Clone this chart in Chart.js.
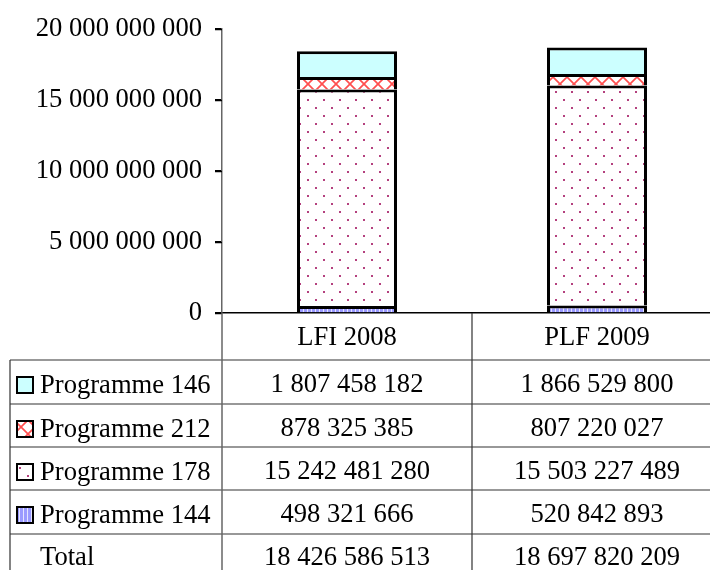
<!DOCTYPE html>
<html>
<head>
<meta charset="utf-8">
<script src="https://cdn.jsdelivr.net/npm/chart.js@4/dist/chart.umd.min.js"></script>
<style>
  html, body { margin: 0; padding: 0; background: #fff; overflow: hidden; }
  #wrap { width: 722px; height: 570px; }
</style>
</head>
<body>
<div id="wrap"><canvas id="c" width="722" height="570"></canvas></div>
<script>
// Budget credits by programme (euros)
const categories = ['LFI 2008', 'PLF 2009'];
const programme146 = [1807458182, 1866529800];
const programme212 = [878325385, 807220027];
const programme178 = [15242481280, 15503227489];
const programme144 = [498321666, 520842893];
const yTickValues = [0, 5000000000, 10000000000, 15000000000, 20000000000];

const FONT_FAMILY = '"Liberation Serif", "Times New Roman", serif';
const FONT_SIZE = 26.6;
const FONT = FONT_SIZE + 'px ' + FONT_FAMILY;

// thousands separated by spaces
function fmt(n) {
  return String(n).replace(/\B(?=(\d{3})+(?!\d))/g, ' ');
}

// fill patterns
function makeTile(w, h, paint) {
  const c = document.createElement('canvas');
  c.width = w; c.height = h;
  const g = c.getContext('2d');
  paint(g, w, h);
  return document.createElement('canvas').getContext('2d').createPattern(c, 'repeat');
}
const fill146 = '#ccffff';
const fill212 = makeTile(14, 14, (g, w, h) => {
  g.fillStyle = '#fff'; g.fillRect(0, 0, w, h);
  g.strokeStyle = 'rgba(255,60,60,0.9)'; g.lineWidth = 1.7;
  g.beginPath();
  g.moveTo(-1, -1); g.lineTo(w + 1, h + 1);
  g.moveTo(w + 1, -1); g.lineTo(-1, h + 1);
  g.stroke();
});
const fill178 = makeTile(16, 16, (g, w, h) => {
  g.fillStyle = '#fff'; g.fillRect(0, 0, w, h);
  g.fillStyle = '#b4407e';
  g.fillRect(3, 3, 2, 2);
  g.fillRect(11, 11, 2, 2);
});
const fill144 = makeTile(4, 4, (g, w, h) => {
  g.fillStyle = '#e4e4ff'; g.fillRect(0, 0, w, h);
  g.fillStyle = '#9a9aff'; g.fillRect(0, 0, 3, h);
});

const series = [
  { label: 'Programme 146', data: programme146, fill: fill146 },
  { label: 'Programme 212', data: programme212, fill: fill212 },
  { label: 'Programme 178', data: programme178, fill: fill178 },
  { label: 'Programme 144', data: programme144, fill: fill144 }
];
const totals = categories.map((_, i) => series.reduce((s, d) => s + d.data[i], 0));

// small outward tick marks on the value axis
const tickMarks = {
  id: 'tickMarks',
  afterDraw(chart) {
    const ctx = chart.ctx;
    const ys = chart.scales.y;
    const x0 = chart.chartArea.left;
    ctx.save();
    ctx.strokeStyle = '#000';
    ctx.lineWidth = 1.3;
    ctx.beginPath();
    yTickValues.forEach(v => {
      const y = Math.round(ys.getPixelForValue(v)) + 0.5;
      ctx.moveTo(x0 - 7, y); ctx.lineTo(x0, y);
    });
    ctx.stroke();
    ctx.restore();
  }
};

// data table drawn under the plot, columns aligned with the category scale
const tablePlugin = {
  id: 'dataTable',
  afterDraw(chart) {
    const ctx = chart.ctx;
    const xs = chart.scales.x;
    const area = chart.chartArea;
    const left = 10, axisX = area.left, right = chart.width;
    const headerTop = area.bottom;
    const rowTops = [360, 404, 447, 490, 534];
    ctx.save();
    // lines
    ctx.strokeStyle = '#333';
    ctx.lineWidth = 1.2;
    ctx.beginPath();
    rowTops.forEach(y => { ctx.moveTo(left, y); ctx.lineTo(right, y); });
    ctx.moveTo(left, rowTops[0]); ctx.lineTo(left, chart.height);
    const mid = (xs.getPixelForValue(0) + xs.getPixelForValue(1)) / 2;
    ctx.moveTo(mid, headerTop); ctx.lineTo(mid, chart.height);
    ctx.stroke();
    ctx.strokeStyle = '#666';
    ctx.lineWidth = 1.5;
    ctx.beginPath();
    ctx.moveTo(axisX, headerTop); ctx.lineTo(axisX, chart.height);
    ctx.stroke();

    ctx.font = FONT;
    ctx.fillStyle = '#000';
    ctx.textBaseline = 'alphabetic';
    // header
    ctx.textAlign = 'center';
    categories.forEach((c, i) => ctx.fillText(c, xs.getPixelForValue(i), headerTop + 32));
    // series rows
    series.forEach((s, r) => {
      const top = rowTops[r];
      // swatch
      ctx.fillStyle = s.fill;
      ctx.fillRect(17, top + 17, 16, 16);
      ctx.strokeStyle = '#000';
      ctx.lineWidth = 2;
      ctx.strokeRect(17, top + 17, 16, 16);
      ctx.fillStyle = '#000';
      ctx.textAlign = 'left';
      ctx.fillText(s.label, 40, top + 33);
      ctx.textAlign = 'center';
      s.data.forEach((v, i) => ctx.fillText(fmt(v), xs.getPixelForValue(i), top + 32));
    });
    // totals
    const tTop = rowTops[4];
    ctx.textAlign = 'left';
    ctx.fillText('Total', 40, tTop + 31);
    ctx.textAlign = 'center';
    totals.forEach((v, i) => ctx.fillText(fmt(v), xs.getPixelForValue(i), tTop + 31));
    ctx.restore();
  }
};

const datasets = series.slice().reverse().map(s => ({
  label: s.label,
  data: s.data,
  backgroundColor: s.fill,
  borderColor: '#000',
  borderWidth: 3,
  borderSkipped: 'bottom',
  inflateAmount: 0,
  barPercentage: 0.4,
  categoryPercentage: 1.0
}));

new Chart(document.getElementById('c'), {
  type: 'bar',
  data: { labels: categories, datasets },
  plugins: [tickMarks, tablePlugin],
  options: {
    responsive: false,
    animation: false,
    layout: { padding: { top: 27, left: 0, right: 0, bottom: 0 } },
    plugins: { legend: { display: false }, tooltip: { enabled: false } },
    scales: {
      x: {
        stacked: true,
        grid: { display: false },
        border: { display: true, color: '#000', width: 1.5 },
        ticks: { display: false },
        afterFit(scale) { scale.height = 257; }
      },
      y: {
        stacked: true,
        min: 0,
        max: 20000000000,
        afterBuildTicks(scale) { scale.ticks = yTickValues.map(v => ({ value: v })); },
        grid: { drawOnChartArea: false, tickLength: 7, color: '#000', lineWidth: 1.5 },
        border: { display: true, color: '#666', width: 1.5 },
        ticks: {
          padding: 13,
          color: '#000',
          font: { family: FONT_FAMILY, size: FONT_SIZE },
          callback: v => fmt(v)
        },
        afterFit(scale) { scale.width = 222; }
      }
    }
  }
});
</script>
</body>
</html>
